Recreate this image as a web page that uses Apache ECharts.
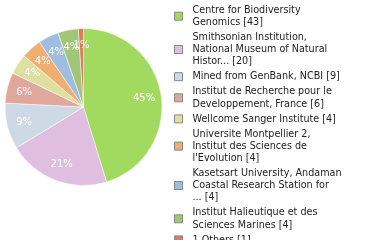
<!DOCTYPE html>
<html><head><meta charset="utf-8">
<script src="https://cdn.jsdelivr.net/npm/echarts@6/dist/echarts.min.js"></script>
<style>html,body{margin:0;padding:0;background:#fff}#c{width:380px;height:240px}</style>
</head><body><div id="c"></div>
<script>
const categories = [
  "Centre for Biodiversity\nGenomics",
  "Smithsonian Institution,\nNational Museum of Natural\nHistor...",
  "Mined from GenBank, NCBI",
  "Institut de Recherche pour le\nDeveloppement, France",
  "Wellcome Sanger Institute",
  "Universite Montpellier 2,\nInstitut des Sciences de\nl'Evolution",
  "Kasetsart University, Andaman\nCoastal Research Station for\n...",
  "Institut Halieutique et des\nSciences Marines",
  "1 Others"
];
const values = [43, 20, 9, 6, 4, 4, 4, 4, 1];
const colors = ["#a2d95f", "#dfbedf", "#cdd9e4", "#e0a89d", "#dfe09f", "#efaf70", "#9ebde0", "#a2c678", "#e07862"];

const total = values.reduce((a, b) => a + b, 0);
const data = categories.map((n, i) => ({ name: n, value: values[i], itemStyle: { color: colors[i] } }));
const labelData = categories.map((n, i) => ({ name: n, value: values[i] }));

const chart = echarts.init(document.getElementById('c'), null, { renderer: 'canvas' });
chart.setOption({
  animation: false,
  legend: {
    orient: 'vertical',
    left: 174,
    top: 4,
    height: 400,
    padding: 0,
    itemWidth: 8,
    itemHeight: 8,
    itemGap: 2.8,
    icon: 'rect',
    itemStyle: { borderColor: '#888', borderWidth: 1 },
    textStyle: { fontFamily: 'DejaVu Sans Condensed', fontSize: 10.7, lineHeight: 12.2, color: '#222', padding: [0, 0, 0, 5] },
    formatter: function (name) {
      const i = categories.indexOf(name);
      return name + ' [' + values[i] + ']';
    },
    data: categories
  },
  series: [
    {
      type: 'pie',
      center: [83.5, 107],
      radius: [0, 78.5],
      startAngle: 90,
      clockwise: true,
      silent: true,
      itemStyle: { borderColor: '#fff', borderWidth: 0.5 },
      label: { show: false },
      labelLine: { show: false },
      data: data
    },
    {
      type: 'pie',
      center: [83.5, 107],
      radius: [38, 78.5],
      startAngle: 90,
      clockwise: true,
      silent: true,
      legendHoverLink: false,
      avoidLabelOverlap: false,
      labelLayout: { hideOverlap: false },
      itemStyle: { color: 'rgba(0,0,0,0)' },
      label: {
        show: true,
        position: 'inside',
        color: '#fff',
        fontFamily: 'DejaVu Sans',
        fontSize: 10,
        formatter: function (p) { return Math.round(p.value / total * 100) + '%'; }
      },
      labelLine: { show: false },
      data: labelData
    }
  ]
});
</script>
</body></html>
